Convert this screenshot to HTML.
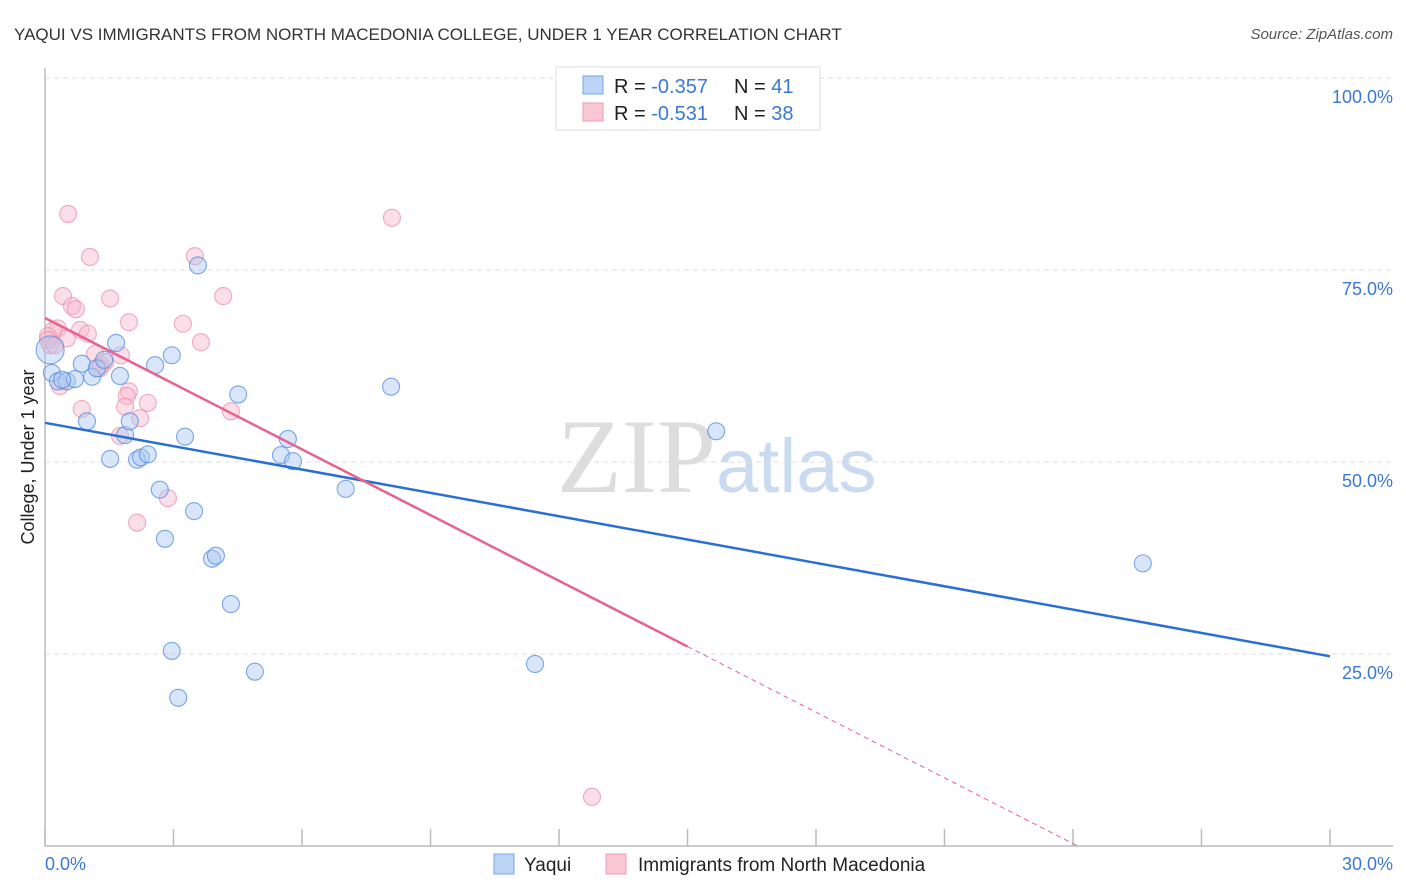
<!DOCTYPE html>
<html><head><meta charset="utf-8"><style>
body{margin:0;background:#fff;font-family:"Liberation Sans",sans-serif;}
</style></head><body>
<svg width="1406" height="892" style="position:absolute;left:0;top:0">
<text x="14" y="40" font-size="17" fill="#333">YAQUI VS IMMIGRANTS FROM NORTH MACEDONIA COLLEGE, UNDER 1 YEAR CORRELATION CHART</text>
<text x="1393" y="39" font-size="15" fill="#555" text-anchor="end" font-style="italic">Source: ZipAtlas.com</text>
<text x="716" y="492" font-size="106" fill="#ddd" text-anchor="end" font-family="Liberation Serif,serif">ZIP</text>
<text x="716" y="492" font-size="76" fill="#c9daf1">atlas</text>
<g id="grid"></g><g id="ticks"></g>
<line x1="45" y1="68" x2="45" y2="846" stroke="#bbb" stroke-width="1.5"/>
<line x1="45" y1="846" x2="1393" y2="846" stroke="#bbb" stroke-width="1.5"/>
<text transform="translate(34,457) rotate(-90)" font-size="18" fill="#222" text-anchor="middle">College, Under 1 year</text>
<text x="45" y="870" font-size="18" fill="#3b78d6">0.0%</text>
<text x="1393" y="870" font-size="18" fill="#3b78d6" text-anchor="end">30.0%</text>
<g id="pts"></g><g id="lines"></g>
<g>
<rect x="556" y="67" width="264" height="63" fill="#fff" stroke="#ddd"/>
<rect x="583" y="76" width="20" height="18" fill="#bcd4f5" stroke="#7aa6e6"/>
<rect x="583" y="103" width="20" height="18" fill="#f9c6d4" stroke="#ee9ab3"/>
<text x="614" y="93" font-size="20" fill="#222">R = <tspan fill="#3b78d6">-0.357</tspan><tspan x="734">N = </tspan><tspan fill="#3b78d6">41</tspan></text>
<text x="614" y="120" font-size="20" fill="#222">R = <tspan fill="#3b78d6"> -0.531</tspan><tspan x="734">N = </tspan><tspan fill="#3b78d6">38</tspan></text>
</g>
<g>
<rect x="494" y="854" width="20" height="20" fill="#bcd4f5" stroke="#7aa6e6"/>
<text x="524" y="871" font-size="19" fill="#222">Yaqui</text>
<rect x="606" y="854" width="20" height="20" fill="#f9c6d4" stroke="#ee9ab3"/>
<text x="638" y="871" font-size="19" fill="#222">Immigrants from North Macedonia</text>
</g>
</svg>
<script>
const yTicks=[25,50,75,100];
const yTickLabels=["25.0%","50.0%","75.0%","100.0%"];
const xTicks=[0,3,6,9,12,15,18,21,24,27,30];
const yaquiX=[0.12,0.16,0.30,0.51,0.70,0.86,0.98,1.10,1.21,1.52,1.66,1.75,1.87,1.98,2.15,2.24,2.40,2.57,2.68,2.80,2.96,2.96,3.11,3.27,3.48,3.57,3.90,3.99,4.34,4.51,4.90,5.51,5.67,5.79,7.02,8.08,11.44,15.67,25.63,1.38,0.40];
const yaquiY=[64.6,61.6,60.5,60.5,60.8,62.8,55.3,61.1,62.2,50.4,65.5,61.2,53.5,55.3,50.3,50.6,51.0,62.6,46.4,40.0,63.9,25.4,19.3,53.3,43.6,75.6,37.4,37.8,31.5,58.8,22.7,50.9,53.0,50.1,46.5,59.8,23.7,54.0,36.8,63.3,60.7];
const macX=[0.54,1.05,8.10,3.50,4.16,0.42,1.52,0.63,0.72,1.96,3.22,0.30,0.19,0.82,1.00,0.51,0.07,0.12,3.64,1.17,1.77,1.31,0.35,1.96,1.91,0.86,1.87,2.40,4.34,2.22,1.75,2.15,2.87,12.77,1.40,0.07,0.23,1.28];
const macY=[82.3,76.7,81.8,76.8,71.6,71.6,71.3,70.3,69.9,68.2,68.0,67.4,67.1,67.2,66.7,66.1,66.4,65.2,65.6,64.1,63.9,62.6,59.9,59.2,58.6,56.9,57.2,57.7,56.6,55.7,53.4,42.1,45.3,6.4,63.0,65.9,65.2,62.2];
const yaquiTrend=[55.1,24.7];
const macTrend=[68.75,-16.8];
const macSolidEnd=15.0;
const NS="http://www.w3.org/2000/svg";
const sx=v=>45+v/30*1285, sy=v=>846-v/100*768;
function mk(t,a,p){const e=document.createElementNS(NS,t);for(const k in a)e.setAttribute(k,a[k]);p.appendChild(e);return e;}
const grid=document.getElementById('grid'),ticks=document.getElementById('ticks'),pts=document.getElementById('pts'),lines=document.getElementById('lines');
yTicks.forEach((t,i)=>{
 const l=mk('line',{x1:45,x2:1393,y1:sy(t),y2:sy(t),stroke:'#ddd','stroke-dasharray':'5,4'},grid);
 
 
 const tx=mk('text',{x:1393,y:sy(t)+25,'font-size':18,fill:'#3b78d6','text-anchor':'end'},grid);
 tx.textContent=yTickLabels[i];
 
 
});
xTicks.forEach(t=>{
 const l=mk('line',{x1:sx(t),x2:sx(t),y1:829,y2:846,stroke:'#bbb','stroke-width':1.5},ticks);
 
 
});
function dots(X,Y,fill,stroke,name){X.forEach((x,i)=>{
 const c=mk('circle',{cx:sx(x),cy:sy(Y[i]),r:(i===0&&name==='yaqui-point')?14:8.5,fill:fill,'fill-opacity':0.45,stroke:stroke,'stroke-opacity':0.75,'stroke-width':1.1},pts);
 
 
});}
dots(macX,macY,'#f7b8cb','#ec8fab','macedonia-point');
dots(yaquiX,yaquiY,'#aac8f1','#4f8ae0','yaqui-point');
const yl=mk('line',{x1:sx(0),y1:sy(yaquiTrend[0]),x2:sx(30),y2:sy(yaquiTrend[1]),stroke:'#2a6fd6','stroke-width':2.5},lines);


const mAt=x=>macTrend[0]+(macTrend[1]-macTrend[0])*x/30;
const ml=mk('line',{x1:sx(0),y1:sy(mAt(0)),x2:sx(macSolidEnd),y2:sy(mAt(macSolidEnd)),stroke:'#e8628e','stroke-width':2.5},lines);


const x0=macTrend[0]/(macTrend[0]-macTrend[1])*30;
const md=mk('line',{x1:sx(macSolidEnd),y1:sy(mAt(macSolidEnd)),x2:sx(x0),y2:sy(0),stroke:'#e8628e','stroke-width':1,'stroke-dasharray':'5,4'},lines);


</script>
</body></html>
